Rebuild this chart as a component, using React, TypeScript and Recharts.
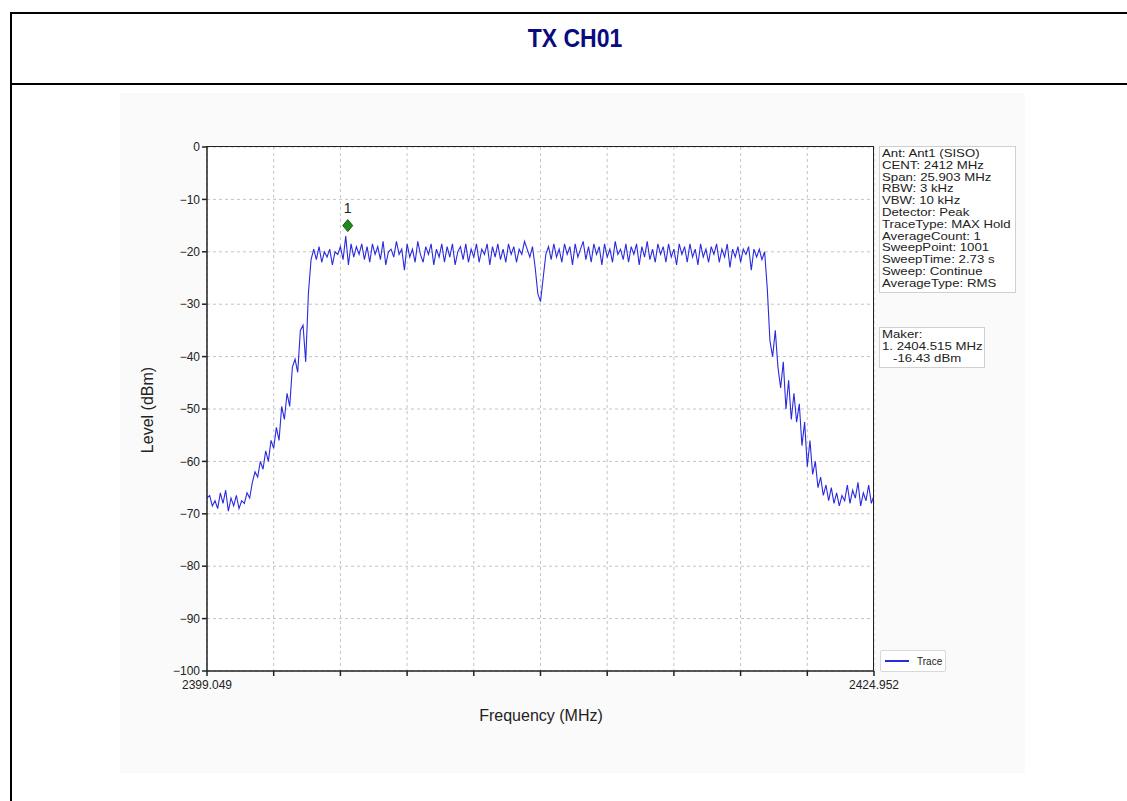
import React from "react";
import {
  LineChart,
  Line,
  XAxis,
  YAxis,
  CartesianGrid,
  Scatter,
  LabelList,
} from "recharts";

// sweep settings (from the analyzer header)
const startFreq = 2399.049;
const stopFreq = 2424.952;

// x axis ticks (10 divisions of the span), only the ends are labelled
const freqTicks = [
  2399.049, 2401.639, 2404.23, 2406.82, 2409.41, 2412.0, 2414.591, 2417.181,
  2419.771, 2422.362, 2424.952,
];
const levelTicks = [0, -10, -20, -30, -40, -50, -60, -70, -80, -90, -100];

// trace levels (dBm), evenly spaced over the span
const lowerSkirt = [
  -67, -66.5, -68.5, -67.5, -69, -66, -68, -65.5, -69.5, -67, -68.5, -66.5, -69,
  -67.5, -68, -66, -67,
];
const risingEdge = [
  -64, -62, -63, -60, -61.5, -58, -60, -56, -57.5, -53.5, -56, -49.5, -52, -47,
  -49.5, -42, -40.5, -43, -35, -34, -41, -28, -21.5,
];
const inBand = [
  -19.5, -21.5, -19, -22, -20, -21, -19.5, -22.5, -20, -20.5,
  -19, -21.5, -17, -22.5, -18.5, -21, -19, -20.5, -18.5, -21.5,
  -19, -22, -18.5, -20.5, -19, -21.5, -18, -22.5, -20, -19.5,
  -21, -18, -20.5, -19.5, -23.5, -18.5, -21, -19.5, -22, -18,
  -20.5, -22, -19, -20.5, -18.5, -22.5, -19.5, -21, -18.5, -22,
  -19, -21, -18.5, -22.5, -20, -19, -21.5, -18.5, -22, -19.5,
  -21, -18.5, -22, -19.5, -20.5, -18.5, -22.5, -19, -21, -18.5,
  -21.5, -19.5, -22, -18.5, -20.5, -19, -22, -19.5, -20.5, -18,
  -19.5, -21, -19, -23, -28, -29.5, -25, -20.5, -19, -21.5,
  -18.5, -21, -19.5, -22, -18.5, -20.5, -19, -22.5, -18.5, -21,
  -19.5, -18, -21.5, -19, -22, -18.5, -20.5, -19, -22.5, -18.5,
  -21, -19.5, -22, -18, -20.5, -19.5, -21.5, -18.5, -22, -19,
  -20.5, -18.5, -22.5, -19, -21, -18, -21.5, -19.5, -22, -18.5,
  -20.5, -19, -22, -18.5, -21, -19.5, -22.5, -18.5, -20.5, -19,
  -22, -18.5, -21, -19.5, -22.5, -18.5, -21, -19.5, -22, -19,
  -20.5, -18.5, -22, -19.5, -21, -18.5, -23, -19.5, -21, -19,
  -22, -19.5, -20.5, -19, -23.5, -19.5, -21, -19.5, -21.5, -20,
];
const fallingEdge = [
  -27, -37, -40, -35, -42, -46, -41, -50, -44.5, -52, -47, -52.5, -49, -57,
  -52.5, -61, -56, -62.5, -60, -65, -63, -66.5, -64.5, -67.5, -65, -68, -66,
  -68.5, -66.5, -67.5, -64.5, -68, -65.5, -67, -64, -68.5, -66, -67.5, -64.5,
  -68, -66.5,
];

const levels = [...lowerSkirt, ...risingEdge, ...inBand, ...fallingEdge];
const step = (stopFreq - startFreq) / (levels.length - 1);
const traceData = levels.map((level, i) => ({ freq: startFreq + i * step, level }));

const markerData = [{ freq: 2404.515, level: -15, name: "1" }];

const infoLines = [
  "Ant: Ant1 (SISO)",
  "CENT: 2412 MHz",
  "Span: 25.903 MHz",
  "RBW: 3 kHz",
  "VBW: 10 kHz",
  "Detector: Peak",
  "TraceType: MAX Hold",
  "AverageCount: 1",
  "SweepPoint: 1001",
  "SweepTime: 2.73 s",
  "Sweep: Continue",
  "AverageType: RMS",
];
const markerLines = ["Maker:", "1. 2404.515 MHz", "\u00a0\u00a0\u00a0-16.43 dBm"];

const font = "Arial, 'Liberation Sans', sans-serif";

const Diamond = (props: any) => {
  const { cx, cy } = props;
  return (
    <path
      d={`M${cx},${cy - 6} L${cx + 5},${cy} L${cx},${cy + 6} L${cx - 5},${cy} Z`}
      fill="#1e8a1e"
      stroke="#146014"
    />
  );
};

const fmtLevel = (v: number) => (v < 0 ? `\u2212${Math.abs(v)}` : `${v}`);
const fmtFreq = (v: number) =>
  v === freqTicks[0] || v === freqTicks[freqTicks.length - 1] ? v.toFixed(3) : "";

const boxStyle: React.CSSProperties = {
  position: "absolute",
  padding: "1px 2px",
  border: "1px solid #d0d0d0",
  background: "#fff",
  fontSize: 11,
  lineHeight: "11.8px",
  color: "#222",
  whiteSpace: "nowrap",
};
const stretch: React.CSSProperties = {
  transform: "scaleX(1.2)",
  transformOrigin: "left center",
};

export default function App() {
  return (
    <div
      style={{
        position: "absolute",
        left: 0,
        top: 0,
        width: 1127,
        height: 801,
        background: "#fff",
        fontFamily: font,
        overflow: "hidden",
      }}
    >
      {/* table frame */}
      <div style={{ position: "absolute", left: 10, top: 12, width: 1117, height: 2, background: "#000" }} />
      <div style={{ position: "absolute", left: 10, top: 83, width: 1117, height: 2, background: "#000" }} />
      <div style={{ position: "absolute", left: 10, top: 12, width: 2, height: 789, background: "#000" }} />
      <div
        style={{
          position: "absolute",
          left: 0,
          top: 24,
          width: 1150,
          textAlign: "center",
          color: "#0b0b80",
          fontWeight: "bold",
          fontSize: 25,
          transform: "scaleX(0.92)",
        }}
      >
        TX CH01
      </div>

      {/* faint figure background and white plot area */}
      <div style={{ position: "absolute", left: 120, top: 93, width: 905, height: 680, background: "#fafafa" }} />
      <div style={{ position: "absolute", left: 207, top: 147, width: 667, height: 524, background: "#fff" }} />

      <div style={{ position: "absolute", left: 0, top: 0 }}>
        <LineChart
          width={1127}
          height={801}
          data={traceData}
          margin={{ top: 147, right: 253, bottom: 100, left: 147 }}
        >
          <CartesianGrid
            stroke="#c4c4c4"
            strokeDasharray="3 3"
            horizontalValues={levelTicks}
            verticalValues={freqTicks}
          />
          <XAxis
            dataKey="freq"
            type="number"
            domain={[startFreq, stopFreq]}
            ticks={freqTicks}
            tickFormatter={fmtFreq}
            interval={0}
            height={30}
            stroke="#222"
            strokeWidth={1.5}
            tickSize={5}
            tickMargin={4}
            tick={{ fill: "#222", fontSize: 12, fontFamily: font }}
            allowDataOverflow
          />
          <YAxis
            dataKey="level"
            type="number"
            domain={[-100, 0]}
            ticks={levelTicks}
            tickFormatter={fmtLevel}
            interval={0}
            width={60}
            stroke="#222"
            strokeWidth={1.5}
            tickSize={5}
            tick={{ fill: "#222", fontSize: 12, fontFamily: font }}
            allowDataOverflow
          />
          <Line
            dataKey="level"
            type="linear"
            stroke="#2a2ae0"
            strokeWidth={1.1}
            dot={false}
            isAnimationActive={false}
          />
          <Scatter data={markerData} dataKey="level" shape={<Diamond />} isAnimationActive={false}>
            <LabelList dataKey="name" position="top" offset={8} fill="#222" fontSize={14} fontFamily={font} />
          </Scatter>
        </LineChart>
      </div>

      {/* plot frame (top and right spines) */}
      <div
        style={{
          position: "absolute",
          left: 206,
          top: 146,
          width: 667,
          height: 524,
          borderTop: "1.5px solid #222",
          borderRight: "1.5px solid #222",
          pointerEvents: "none",
        }}
      />

      {/* axis titles */}
      <div
        style={{
          position: "absolute",
          left: 148,
          top: 410,
          transform: "translate(-50%, -50%) rotate(-90deg)",
          fontSize: 16,
          color: "#222",
          whiteSpace: "nowrap",
        }}
      >
        Level (dBm)
      </div>
      <div
        style={{
          position: "absolute",
          left: 541,
          top: 716,
          transform: "translate(-50%, -50%)",
          fontSize: 16,
          color: "#222",
          whiteSpace: "nowrap",
        }}
      >
        Frequency (MHz)
      </div>

      {/* analyzer settings box */}
      <div style={{ ...boxStyle, left: 879, top: 146, width: 131, height: 143 }}>
        {infoLines.map((t) => (
          <div key={t} style={stretch}>
            {t}
          </div>
        ))}
      </div>

      {/* marker box */}
      <div style={{ ...boxStyle, left: 879, top: 327, width: 100, height: 37 }}>
        {markerLines.map((t) => (
          <div key={t} style={stretch}>
            {t}
          </div>
        ))}
      </div>

      {/* legend */}
      <div
        style={{
          position: "absolute",
          left: 880,
          top: 650,
          width: 64,
          height: 20,
          border: "1px solid #d8d8d8",
          borderRadius: 2,
          background: "#fff",
          display: "flex",
          alignItems: "center",
          fontSize: 10,
          color: "#222",
        }}
      >
        <div style={{ width: 24, height: 1.5, background: "#2a2ae0", margin: "0 8px 0 4px" }} />
        Trace
      </div>
    </div>
  );
}
